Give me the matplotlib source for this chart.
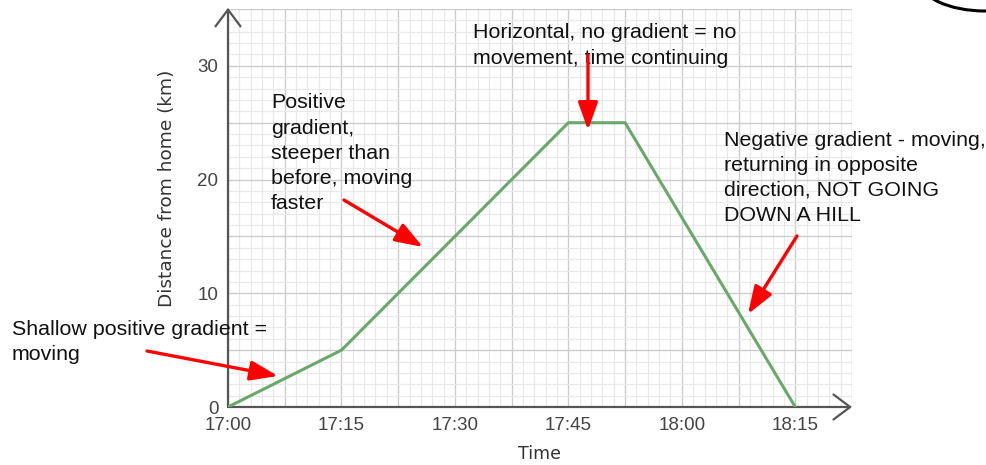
import numpy as np
import matplotlib
matplotlib.use("Agg")
import matplotlib.pyplot as plt
from matplotlib.patches import Ellipse, FancyArrowPatch

# journey data (minutes after 17:00, km from home)
minutes = [0, 15, 45, 52.5, 75]
distance = [0, 5, 25, 25, 0]

x_ticks = [0, 7.5, 15, 22.5, 30, 37.5, 45, 52.5, 60, 67.5, 75, 82.5]
x_labels = ["17:00", "", "17:15", "", "17:30", "", "17:45", "", "18:00", "", "18:15", ""]
y_ticks = [0, 5, 10, 15, 20, 25, 30, 35]
y_labels = ["0", "", "10", "", "20", "", "30", ""]

notes = [
    "Shallow positive gradient =\nmoving",
    "Positive\ngradient,\nsteeper than\nbefore, moving\nfaster",
    "Horizontal, no gradient = no\nmovement, time continuing",
    "Negative gradient - moving,\nreturning in opposite\ndirection, NOT GOING\nDOWN A HILL",
]

W, H = 987, 465


def px(x, y):
    return (x / W, 1 - y / H)


fig = plt.figure(figsize=(W / 100, H / 100), dpi=100)
ax = fig.add_axes([228 / W, 1 - 407 / H, (852 - 228) / W, (407 - 9) / H])

ax.set_xlim(0, 82.5)
ax.set_ylim(0, 35)
ax.set_xticks(x_ticks)
ax.set_xticklabels(x_labels)
ax.set_yticks(y_ticks)
ax.set_yticklabels(y_labels)
ax.set_xticks(np.arange(0, 82.6, 1.5), minor=True)
ax.set_yticks(np.arange(0, 35.1, 1), minor=True)
ax.grid(which="major", color="#cccccc", lw=1.0)
ax.grid(which="minor", color="#e9e9e9", lw=0.9)
ax.set_axisbelow(True)
ax.tick_params(which="both", length=0, labelsize=13.5, labelcolor="#444444",
               pad=7)
for lab in ax.get_xticklabels() + ax.get_yticklabels():
    lab.set_family("Liberation Sans")
for s in ax.spines.values():
    s.set_visible(False)

# axis lines with open arrow heads
arrow_kw = dict(arrowstyle="->,head_length=0.6,head_width=0.45", color="#555555",
                lw=1.6, mutation_scale=20, shrinkA=0, shrinkB=0)
ax.annotate("", xy=(0, 1.003), xytext=(0, 0), xycoords="axes fraction",
            arrowprops=arrow_kw, annotation_clip=False)
ax.annotate("", xy=(1.0, 0), xytext=(0, 0), xycoords="axes fraction",
            arrowprops=arrow_kw, annotation_clip=False)

ax.plot(minutes, distance, color="#6aa86a", lw=2.2, zorder=3)

ax.set_xlabel("Time", fontsize=12.5, color="#333333", labelpad=8)
ax.set_ylabel("Distance from home (km)", fontsize=13.3, color="#333333")
ax.yaxis.set_label_coords(-0.083, 0.55)

# annotations
txt_kw = dict(fontsize=15.4, family="Liberation Sans", color="#111111",
              va="top", ha="left", linespacing=1.41, zorder=3)
fig.text(*px(12, 319.5), notes[0], **txt_kw)
fig.text(*px(271, 93.5), notes[1], **txt_kw)
fig.text(*px(473, 23.5), notes[2], **txt_kw)
fig.text(*px(724, 130.5), notes[3], **txt_kw)

red_kw = dict(arrowstyle="-|>,head_length=0.7,head_width=0.25", color="#ff0000",
              lw=2.4, mutation_scale=24, shrinkA=0, shrinkB=0, zorder=5)
for start, end in [((147, 351), (278, 376)), ((344, 200), (423, 247)),
                   ((588, 55), (588, 130)), ((797, 236), (748, 314))]:
    fig.add_artist(FancyArrowPatch(px(*start), px(*end),
                                   transform=fig.transFigure, **red_kw))

# partial circle in the top right corner
fig.add_artist(Ellipse(px(985, -20), 131 / W, 62 / H, transform=fig.transFigure,
                       fill=False, color="black", lw=2.2, clip_on=False))

fig.savefig("out.png", dpi=100)
